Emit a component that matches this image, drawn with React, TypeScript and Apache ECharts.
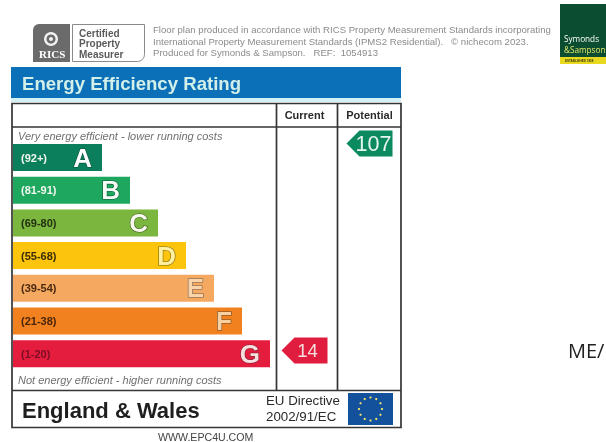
import React, { useEffect, useRef } from "react";
import * as echarts from "echarts";

const bandRanges = ["(92+)", "(81-91)", "(69-80)", "(55-68)", "(39-54)", "(21-38)", "(1-20)"];
const bandLetters = ["A", "B", "C", "D", "E", "F", "G"];
const bandLengths = [89, 117, 145, 173, 201, 229, 257];
const bandColors = ["#0b7f5c", "#1ea75f", "#7bb63f", "#fcc40d", "#f5a860", "#f1811f", "#e41d3f"];
const rangeColors = ["#f2f7f0", "#f2f7f0", "#23300f", "#3a2c05", "#4a2a10", "#4a2408", "#7c0c22"];
const letterFills = ["#ffffff", "#f6fbf6", "#f6f8ee", "#fff0a0", "#fbd3a8", "#fbd0a0", "#f7dfe0"];
const letterEdges = ["#0a4f3a", "#0c5a38", "#3d5a1a", "#7d6a10", "#6e6258", "#6e4a28", "#7c1c2c"];
const columns = ["Current", "Potential"];
const currentScore = 14;
const potentialScore = 107;

const headerLines = [
  "Floor plan produced in accordance with RICS Property Measurement Standards incorporating",
  "International Property Measurement Standards (IPMS2 Residential).   \u00A9 nichecom 2023.",
  "Produced for Symonds & Sampson.   REF:  1054913",
];
const certLines = ["Certified", "Property", "Measurer"];

const pointer = "path://M0 13 L13 0 H46 V26 H13 Z";
const sans = "'Liberation Sans', Arial, sans-serif";

function euStars() {
  const out: any[] = [];
  for (let i = 0; i < 12; i++) {
    const a = (i * Math.PI) / 6;
    out.push({
      type: "circle",
      shape: { cx: 370.5 + 11.5 * Math.sin(a), cy: 409 - 11.5 * Math.cos(a), r: 1.1 },
      style: { fill: "#f4e96a" },
    });
  }
  return out;
}

function txt(x: number, y: number, text: string, font: string, fill: string, extra: any = {}) {
  return {
    type: "text",
    x,
    y,
    style: { text, font, fill, textVerticalAlign: "middle", verticalAlign: "middle", ...extra },
  };
}

function line(x1: number, y1: number, x2: number, y2: number, w = 1.7) {
  return {
    type: "line",
    shape: { x1, y1, x2, y2 },
    style: { stroke: "#353535", lineWidth: w },
  };
}

export default function App() {
  const ref = useRef<HTMLDivElement>(null);
  useEffect(() => {
    const chart = echarts.init(ref.current!, null, { renderer: "svg" });
    const graphic: any[] = [
      // RICS badge
      { type: "rect", shape: { x: 33, y: 24, width: 37, height: 38, r: [6, 0, 0, 0] }, style: { fill: "#6b6b6b" } },
      { type: "ring", shape: { cx: 51, cy: 39, r: 7, r0: 4.5 }, style: { fill: "#f0f0f0" } },
      { type: "circle", shape: { cx: 51, cy: 39, r: 2 }, style: { fill: "#f0f0f0" } },
      txt(39, 53.5, "RICS", "bold 11px 'Liberation Serif', serif", "#ffffff"),
      { type: "rect", shape: { x: 72.5, y: 24.5, width: 72, height: 37, r: [0, 0, 7, 0] }, style: { fill: "#fff", stroke: "#8a8a8a", lineWidth: 1 } },
      ...certLines.map((t, i) => txt(79, 33.3 + i * 10.4, t, `bold 10px ${sans}`, "#5a5a5a")),
      ...headerLines.map((t, i) => txt(153, 29.5 + i * 11.5, t, `9.6px ${sans}`, "#8b8b8b")),
      // Symonds & Sampson logo
      { type: "rect", shape: { x: 560, y: 4, width: 46, height: 53 }, style: { fill: "#0b4d30" } },
      { type: "rect", shape: { x: 560, y: 57, width: 46, height: 7 }, style: { fill: "#e9d91e" } },
      txt(564, 38, "Symonds", `8.2px 'Open Sans', sans-serif`, "#ffffff"),
      txt(564, 49, "&Sampson", `8.2px 'Open Sans', sans-serif`, "#e6e86a"),
      txt(565, 61, "ESTABLISHED 1858", `bold 3px ${sans}`, "#3a3a10"),
      // Header band
      { type: "rect", shape: { x: 11, y: 67, width: 390, height: 31 }, style: { fill: "#0b70b8" } },
      { type: "rect", shape: { x: 11, y: 98, width: 390, height: 4 }, style: { fill: "#d3f1f4" } },
      // Table
      { type: "rect", shape: { x: 12, y: 103.5, width: 389, height: 324 }, style: { fill: "#fff", stroke: "#353535", lineWidth: 1.7 } },
      line(12, 127, 401, 127),
      line(12, 390.5, 401, 390.5),
      line(276.5, 103.5, 276.5, 390.5),
      line(337.5, 103.5, 337.5, 390.5),
      txt(18, 136, "Very energy efficient - lower running costs", `italic 11px ${sans}`, "#707070"),
      txt(18, 380, "Not energy efficient - higher running costs", `italic 11px ${sans}`, "#707070"),
      txt(22, 410, "England & Wales", `bold 22px ${sans}`, "#1e1e1e"),
      txt(266, 400.5, "EU Directive", `13.3px ${sans}`, "#2a2a2a"),
      txt(266, 416.5, "2002/91/EC", `13.3px ${sans}`, "#2a2a2a"),
      { type: "rect", shape: { x: 348, y: 393, width: 45, height: 32 }, style: { fill: "#14519c" } },
      ...euStars(),
      txt(158, 437, "WWW.EPC4U.COM", `10.6px ${sans}`, "#444444"),
      txt(568, 350, "ME/", `20px 'Open Sans', sans-serif`, "#222222"),
    ];

    chart.setOption({
      animation: false,
      title: {
        text: "Energy Efficiency Rating",
        left: 17,
        top: 68.7,
        textStyle: { color: "#d2efe9", fontFamily: sans, fontWeight: "bold", fontSize: 18.6 },
      },
      graphic: { elements: graphic },
      grid: [
        { left: 13, width: 257, top: 141.15, height: 228.9 },
        { left: 272, width: 130, top: 114.6, height: 267.06 },
      ],
      xAxis: [
        { type: "value", gridIndex: 0, min: 0, max: 257, show: false },
        {
          type: "category",
          gridIndex: 1,
          position: "top",
          data: columns,
          axisLine: { show: false },
          axisTick: { show: false },
          axisLabel: {
            margin: 0,
            verticalAlign: "middle",
            color: "#2a2a2a",
            fontFamily: sans,
            fontWeight: "bold",
            fontSize: 11,
          },
        },
      ],
      yAxis: [
        {
          type: "category",
          gridIndex: 0,
          inverse: true,
          data: bandRanges,
          axisLine: { show: false },
          axisTick: { show: false },
          axisLabel: {
            inside: true,
            margin: 8,
            fontFamily: sans,
            fontWeight: "bold",
            fontSize: 11,
            color: (_: string, i: number) => rangeColors[i],
          },
          z: 5,
        },
        { type: "value", gridIndex: 1, min: 0, max: 120, show: false },
      ],
      series: [
        {
          type: "bar",
          xAxisIndex: 0,
          yAxisIndex: 0,
          barWidth: 27,
          data: bandLengths.map((v, i) => ({
            value: v,
            itemStyle: { color: bandColors[i] },
            label: { color: letterFills[i], textBorderColor: letterEdges[i] },
          })),
          label: {
            show: true,
            position: "insideRight",
            distance: 10,
            fontFamily: sans,
            fontWeight: "bold",
            fontSize: 26,
            textBorderWidth: 1.2,
            formatter: (p: any) => bandLetters[p.dataIndex],
          },
        },
        {
          type: "scatter",
          xAxisIndex: 1,
          yAxisIndex: 1,
          symbol: pointer,
          symbolSize: [46, 26],
          itemStyle: { color: "#e01d3e", opacity: 1 },
          data: [[columns[0], currentScore]],
          label: {
            show: true,
            position: "inside",
            offset: [3, 0],
            color: "#f7dfe0",
            fontFamily: sans,
            fontSize: 18.5,
            formatter: (p: any) => String(p.value[1]),
          },
        },
        {
          type: "scatter",
          xAxisIndex: 1,
          yAxisIndex: 1,
          symbol: pointer,
          symbolSize: [46, 26],
          itemStyle: { color: "#0b8a60", opacity: 1 },
          data: [[columns[1], potentialScore]],
          label: {
            show: true,
            position: "inside",
            offset: [4, 0],
            color: "#e6f5ee",
            fontFamily: sans,
            fontSize: 21.5,
            formatter: (p: any) => String(p.value[1]),
          },
        },
      ],
    });
    return () => chart.dispose();
  }, []);
  return (
    <div
      ref={ref}
      style={{ position: "fixed", left: 0, top: 0, width: 606, height: 442, background: "#fff", filter: "blur(0.35px)" }}
    />
  );
}
